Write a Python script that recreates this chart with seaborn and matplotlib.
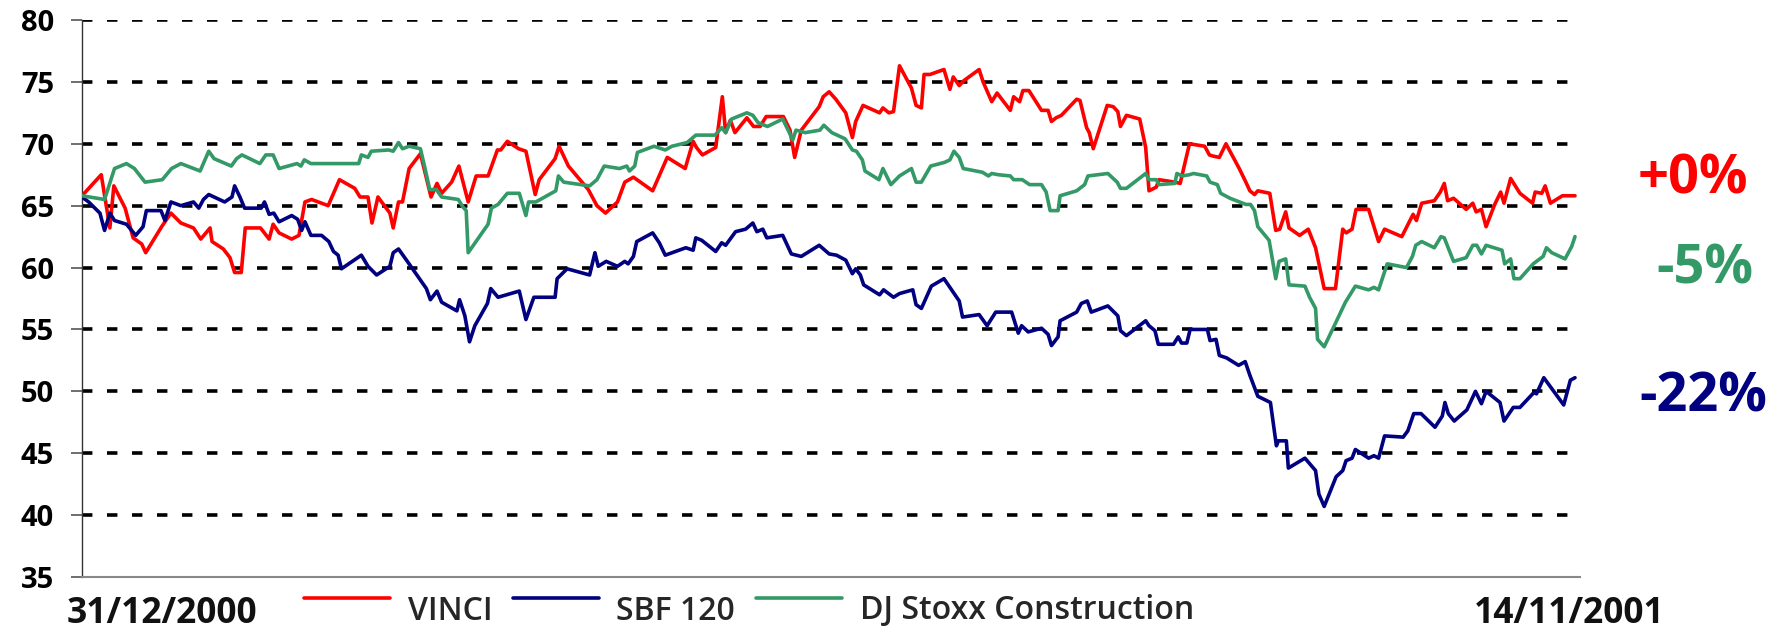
import numpy as np
import pandas as pd
import matplotlib
matplotlib.use("Agg")
import matplotlib.pyplot as plt
from matplotlib.lines import Line2D
from matplotlib.legend_handler import HandlerLine2D
import seaborn as sns

# ---------------- data (trading-day index, value) ----------------
series_names = ["VINCI", "SBF 120", "DJ Stoxx Construction"]
series_colors = ["#FF0000", "#000080", "#339966"]
end_labels = ["+0%", "-5%", "-22%"]
start_label = "31/12/2000"
end_label = "14/11/2001"
y_ticks = [35, 40, 45, 50, 55, 60, 65, 70, 75, 80]

vinci_x = [0, 2.9, 4.2, 4.8, 6.5, 7.7, 9.0, 9.6, 12.0, 13.4, 14.9, 16.8, 17.9, 19.3, 19.6, 21.3, 22.3, 23.0, 24.0, 24.6,
           26.9, 28.2, 28.8, 29.7, 31.6, 32.7, 33.6, 34.6, 37.1, 38.8, 41.1, 41.9, 43.1, 43.7, 44.6, 46.4, 46.9, 47.7,
           48.3, 49.3, 51.0, 52.6, 53.5, 54.2, 55.7, 56.8, 58.2, 59.4, 61.2, 62.6, 63.1, 64.1, 65.8, 66.9, 68.3, 68.9,
           71.3, 71.9, 73.3, 76.3, 77.6, 78.9, 80.7, 81.8, 83.1, 86.0, 88.2, 90.9, 92.1, 92.6, 93.5, 95.5, 96.5, 97.0,
           97.7, 98.4, 100.2, 101.2, 102.2, 103.1, 105.7, 106.7, 107.4, 108.4, 111.1, 111.7, 112.6, 113.6, 115.1,
           116.1, 116.6, 117.7, 120.2, 120.7, 121.6, 122.3, 123.2, 125.0, 125.7, 126.5, 126.9, 127.8, 129.9, 130.8,
           131.3, 132.2, 132.9, 135.2, 135.8, 137.1, 137.9, 139.9, 140.4, 141.3, 141.8, 142.7, 144.6, 145.6, 146.1,
           146.8, 147.6, 149.9, 150.4, 151.4, 151.8, 152.4, 154.5, 155.4, 156.1, 156.5, 157.4, 159.4, 160.3, 160.8,
           161.9, 162.3, 164.7, 165.5, 165.8, 166.9, 169.2, 169.9, 170.5, 171.4, 172.4, 173.5, 174.4, 175.4, 176.0,
           176.7, 177.2, 179.0, 179.9, 180.5, 181.4, 181.9, 183.5, 184.8, 185.9, 187.2, 188.9, 190.0, 190.5, 191.4,
           192.0, 193.9, 194.6, 195.4, 196.3, 198.9, 200.6, 201.1, 201.9, 203.8, 204.7, 205.3, 205.8, 206.7, 208.6,
           209.6, 210.1, 210.9, 211.6, 212.9, 213.8, 214.3, 215.3, 216.7, 218.6, 219.0, 220.0, 220.5, 221.3, 223.1,
           225.0]
vinci_y = [65.8, 67.5, 63.2, 66.6, 64.8, 62.4, 61.9, 61.2, 63.3, 64.4, 63.6, 63.2, 62.3, 63.2, 62.1, 61.5, 60.8, 59.6,
           59.6, 63.2, 63.2, 62.3, 63.5, 62.8, 62.3, 62.6, 65.3, 65.5, 65.0, 67.1, 66.4, 65.7, 65.7, 63.6, 65.7, 64.4,
           63.2, 65.3, 65.3, 68.0, 69.2, 65.7, 66.8, 66.0, 66.9, 68.2, 65.3, 67.4, 67.4, 69.5, 69.5, 70.2, 69.6, 69.4,
           65.9, 67.1, 68.8, 69.8, 68.2, 66.3, 65.0, 64.4, 65.3, 66.9, 67.3, 66.2, 68.9, 68.0, 70.2, 69.7, 69.1, 69.7,
           73.8, 70.9, 71.9, 70.9, 72.1, 71.4, 71.4, 72.2, 72.2, 71.1, 68.9, 71.1, 73.0, 73.8, 74.2, 73.6, 72.5, 70.5,
           71.8, 73.1, 72.5, 72.9, 72.5, 72.6, 76.3, 74.5, 73.1, 72.9, 75.6, 75.6, 76.0, 74.4, 75.4, 74.7, 75.1, 76.0,
           75.0, 73.4, 74.1, 72.7, 73.8, 73.4, 74.3, 74.3, 72.7, 72.7, 71.8, 72.1, 72.3, 73.6, 73.5, 71.3, 70.9, 69.6,
           73.1, 73.0, 72.6, 71.4, 72.3, 72.0, 69.7, 66.2, 66.5, 67.1, 66.9, 66.8, 67.5, 70.0, 69.8, 69.1, 69.0, 68.9,
           70.0, 68.9, 68.0, 66.9, 66.2, 65.9, 66.2, 66.0, 63.0, 63.1, 64.5, 63.2, 62.6, 63.1, 61.6, 58.3, 58.3, 63.1,
           62.8, 63.1, 64.7, 64.7, 63.5, 62.1, 63.1, 62.5, 64.3, 63.8, 65.2, 65.4, 66.1, 66.8, 65.4, 65.6, 64.7, 65.2,
           64.5, 64.7, 63.3, 65.1, 66.1, 65.2, 67.2, 66.0, 65.2, 66.1, 66.0, 66.6, 65.2, 65.8, 65.8]

sbf_x = [0, 1.0, 2.7, 3.4, 4.2, 4.9, 6.7, 8.1, 9.2, 9.7, 11.9, 12.5, 13.4, 14.9, 16.8, 17.6, 18.3, 19.1, 21.5, 22.6,
         23.0, 23.8, 24.5, 27.0, 27.5, 28.2, 28.9, 29.7, 31.6, 32.5, 33.1, 33.6, 34.5, 36.1, 37.2, 37.9, 38.6, 39.1,
         42.1, 43.1, 44.4, 46.4, 46.9, 47.7, 48.9, 51.9, 52.5, 53.5, 54.2, 56.5, 56.9, 57.7, 58.4, 59.2, 61.1, 61.6,
         62.7, 65.9, 66.9, 68.1, 71.3, 71.6, 73.1, 76.5, 77.3, 77.8, 79.0, 80.7, 81.8, 82.3, 83.1, 83.6, 86.0, 87.0,
         87.9, 91.0, 92.1, 92.5, 93.4, 95.5, 96.4, 97.0, 98.5, 100.0, 101.1, 101.7, 102.6, 103.2, 105.6, 106.9, 108.4,
         111.1, 112.6, 113.7, 115.1, 116.1, 116.6, 117.3, 117.8, 120.2, 120.8, 122.3, 123.2, 125.2, 125.7, 126.5,
         128.0, 129.9, 132.2, 132.7, 135.2, 136.4, 137.7, 140.1, 141.1, 141.6, 142.6, 144.6, 145.6, 146.1, 147.1,
         147.4, 149.9, 150.6, 151.5, 152.1, 154.6, 156.1, 156.5, 157.4, 160.3, 160.8, 161.7, 162.2, 164.5, 165.2,
         165.7, 166.5, 167.0, 169.6, 170.0, 170.9, 171.4, 172.5, 174.3, 175.3, 176.0, 177.2, 179.1, 180.0, 180.3,
         181.5, 181.8, 184.3, 185.9, 186.4, 187.2, 189.0, 190.0, 190.5, 191.4, 191.9, 193.9, 194.7, 195.4, 196.3,
         199.1, 199.8, 200.7, 201.8, 203.9, 205.0, 205.4, 205.9, 206.8, 208.7, 210.0, 210.9, 211.6, 213.7, 214.3,
         215.7, 216.7, 218.8, 219.2, 220.3, 223.3, 224.3, 225.0]
sbf_y = [65.7, 65.3, 64.4, 63.0, 64.4, 63.8, 63.5, 62.6, 63.3, 64.6, 64.6, 63.8, 65.3, 65.0, 65.3, 64.8, 65.5, 65.9,
         65.3, 65.7, 66.6, 65.7, 64.8, 64.8, 65.3, 64.3, 64.4, 63.7, 64.2, 63.9, 63.0, 63.7, 62.6, 62.6, 62.1, 61.3,
         61.0, 59.9, 61.0, 60.1, 59.4, 60.1, 61.2, 61.5, 60.6, 58.3, 57.4, 58.1, 57.2, 56.5, 57.4, 56.1, 54.0, 55.3,
         57.1, 58.3, 57.6, 58.1, 55.8, 57.6, 57.6, 59.1, 59.9, 59.4, 61.2, 60.1, 60.5, 60.1, 60.5, 60.3, 60.9, 62.1,
         62.8, 62.0, 61.0, 61.6, 61.4, 62.4, 62.2, 61.3, 62.0, 61.8, 62.9, 63.1, 63.6, 62.9, 63.1, 62.4, 62.6, 61.1,
         60.9, 61.8, 61.1, 61.0, 60.6, 59.5, 59.9, 59.4, 58.6, 57.8, 58.2, 57.6, 57.9, 58.2, 57.0, 56.7, 58.5, 59.1,
         57.3, 56.0, 56.2, 55.3, 56.4, 56.4, 54.7, 55.3, 54.8, 55.1, 54.6, 53.7, 54.4, 55.7, 56.4, 57.1, 57.3, 56.4,
         56.9, 56.1, 54.9, 54.5, 55.7, 55.3, 54.9, 53.8, 53.8, 54.4, 53.9, 53.9, 55.0, 55.0, 54.1, 54.2, 52.9, 52.7,
         52.1, 52.4, 51.3, 49.6, 49.1, 45.6, 46.0, 46.0, 43.8, 44.6, 43.6, 41.7, 40.7, 43.1, 43.6, 44.4, 44.6, 45.3,
         44.6, 44.8, 44.6, 46.4, 46.3, 46.8, 48.2, 48.2, 47.1, 48.0, 49.1, 48.2, 47.6, 48.5, 50.0, 49.0, 50.0, 49.1,
         47.6, 48.7, 48.7, 49.9, 49.8, 51.1, 48.9, 50.9, 51.1]

dj_x = [0, 3.4, 4.9, 6.7, 7.9, 9.5, 12.1, 13.5, 14.9, 17.8, 19.1, 19.9, 22.5, 23.3, 24.1, 26.8, 27.7, 28.8, 29.7,
        32.4, 33.0, 33.5, 34.5, 41.7, 42.1, 43.1, 43.6, 46.2, 46.9, 47.7, 48.3, 49.3, 51.0, 51.7, 52.4, 53.4, 54.2,
        56.7, 57.4, 57.9, 58.2, 61.2, 61.7, 62.7, 64.1, 65.9, 66.9, 67.3, 68.4, 71.4, 71.8, 72.6, 76.5, 77.6, 78.7,
        81.0, 82.1, 82.5, 83.3, 83.7, 86.2, 87.9, 88.9, 91.2, 92.5, 95.4, 96.4, 97.0, 97.9, 100.2, 101.1, 101.9,
        103.3, 105.6, 106.6, 107.1, 107.6, 109.0, 111.2, 111.8, 113.0, 115.0, 116.1, 116.7, 117.6, 118.0, 120.1,
        120.7, 121.9, 123.2, 125.0, 125.7, 126.5, 127.9, 130.0, 130.8, 131.4, 132.2, 132.8, 135.7, 136.6, 137.1,
        138.1, 139.9, 140.4, 141.7, 142.8, 144.6, 145.3, 145.9, 147.1, 147.4, 149.9, 151.1, 151.6, 154.6, 156.0,
        156.5, 157.4, 160.3, 160.8, 161.9, 162.3, 164.7, 165.0, 165.8, 166.9, 167.5, 169.5, 170.0, 171.1, 171.6,
        173.0, 175.4, 176.1, 176.7, 177.2, 178.9, 179.9, 180.4, 181.4, 181.9, 184.3, 185.0, 185.9, 186.2, 187.2,
        188.9, 190.4, 191.9, 193.9, 194.7, 195.4, 196.7, 199.6, 200.5, 201.0, 201.9, 203.8, 204.8, 205.3, 206.7,
        208.6, 209.6, 210.2, 210.9, 211.6, 214.0, 214.4, 215.3, 215.8, 216.7, 218.7, 220.2, 220.7, 221.5, 223.5,
        224.5, 225.0]
dj_y = [65.8, 65.5, 68.0, 68.4, 68.0, 66.9, 67.1, 68.0, 68.4, 67.8, 69.4, 68.8, 68.2, 68.8, 69.1, 68.4, 69.1, 69.1,
        68.0, 68.4, 68.2, 68.7, 68.4, 68.4, 69.1, 68.9, 69.4, 69.5, 69.4, 70.1, 69.6, 69.8, 69.6, 68.0, 66.3, 66.3,
        65.7, 65.5, 64.9, 64.6, 61.2, 63.5, 64.8, 65.1, 66.0, 66.0, 64.2, 65.3, 65.3, 66.2, 67.4, 66.9, 66.6, 67.1,
        68.2, 68.0, 68.2, 67.8, 68.2, 69.3, 69.8, 69.5, 69.8, 70.1, 70.7, 70.7, 71.3, 70.9, 72.0, 72.5, 72.3, 71.7,
        71.4, 72.0, 70.9, 70.3, 71.1, 70.9, 71.1, 71.5, 70.9, 70.4, 69.5, 69.4, 68.7, 67.8, 67.1, 68.0, 66.7, 67.4,
        68.0, 66.9, 66.9, 68.2, 68.5, 68.7, 69.4, 68.9, 68.0, 67.7, 67.4, 67.6, 67.5, 67.4, 67.1, 67.1, 66.7, 66.7,
        66.1, 64.6, 64.6, 65.8, 66.2, 66.7, 67.4, 67.6, 66.9, 66.4, 66.4, 67.6, 67.1, 67.1, 66.7, 66.8, 67.6, 67.4,
        67.5, 67.6, 67.4, 66.9, 66.7, 66.0, 65.6, 65.1, 65.1, 64.6, 63.3, 62.2, 59.1, 60.5, 60.7, 58.6, 58.5, 57.6,
        56.7, 54.2, 53.6, 55.5, 57.2, 58.5, 58.2, 58.4, 58.2, 60.3, 60.0, 60.9, 61.8, 62.1, 61.6, 62.5, 62.4, 60.5,
        60.8, 61.8, 61.8, 61.1, 61.8, 61.4, 60.3, 60.7, 59.1, 59.1, 60.3, 60.9, 61.6, 61.2, 60.7, 61.7, 62.5]

# ---------------- build long-form table ----------------
frames = []
for name, xs, ys in zip(series_names, [vinci_x, sbf_x, dj_x], [vinci_y, sbf_y, dj_y]):
    frames.append(pd.DataFrame({"day": xs, "value": ys, "series": name}))
df = pd.concat(frames, ignore_index=True)

# ---------------- style ----------------
sns.set_theme(style="white")
plt.rcParams["font.family"] = ["Open Sans", "DejaVu Sans"]
plt.rcParams["lines.scale_dashes"] = False

W, H = 1782, 634
fig = plt.figure(figsize=(W / 100, H / 100), dpi=100)
ax_left, ax_right = 82 / W, 1580 / W
ax_bottom, ax_top = 1 - 577 / H, 1 - 20 / H
ax = fig.add_axes([ax_left, ax_bottom, ax_right - ax_left, ax_top - ax_bottom])

LW = 2.6
palette = dict(zip(series_names, series_colors))
sns.lineplot(data=df, x="day", y="value", hue="series", palette=palette, hue_order=series_names,
             estimator=None, sort=False, linewidth=LW, ax=ax, zorder=3)

# dashed horizontal gridlines (not at the base axis)
for yv in y_ticks[1:]:
    ax.axhline(yv, xmin=0, xmax=0.9935, color="black", linewidth=2.6,
               linestyle=(0, (7.5, 10.5)), zorder=1)

ax.set_xlim(0, 225 * (1580 - 82) / (1575 - 82))
ax.set_ylim(35, 80)
ax.set_yticks(y_ticks)
ax.set_yticklabels([str(t) for t in y_ticks], fontsize=21, fontweight="bold", color="black")
ax.set_xticks([])
ax.set_xlabel("")
ax.set_ylabel("")
ax.tick_params(axis="y", direction="out", length=8, width=1.2, color="#555555", pad=12, left=True)

for s in ["top", "right"]:
    ax.spines[s].set_visible(False)
ax.spines["left"].set_color("#333333")
ax.spines["left"].set_linewidth(1.0)
ax.spines["bottom"].set_color("#888888")
ax.spines["bottom"].set_linewidth(1.5)


class RaisedLine(HandlerLine2D):
    def create_artists(self, legend, orig_handle, xdescent, ydescent, width, height, fontsize, trans):
        arts = super().create_artists(legend, orig_handle, xdescent, ydescent, width, height, fontsize, trans)
        for a in arts:
            yd = np.asarray(a.get_ydata(), dtype=float)
            a.set_ydata(yd + 0.33 * fontsize)
            a.set_linewidth(LW)
        return arts


legend_size = 23
# legend at bottom
sns.move_legend(ax, "center left", bbox_to_anchor=(288 / W, 1 - 611 / H), bbox_transform=fig.transFigure,
                ncol=3, frameon=False, title=None, borderpad=0, handlelength=86 / (legend_size * 1.389),
                handletextpad=0.55, columnspacing=0.65,
                prop={"family": ["Open Sans", "DejaVu Sans"], "size": legend_size, "weight": "semibold"},
                handler_map={Line2D: RaisedLine()})

# date labels
fig.text(67 / W, 1 - 623 / H, start_label, ha="left", va="baseline", fontsize=25.5, fontweight="bold",
         color="#111111")
fig.text(1569 / W, 1 - 623 / H, end_label, ha="center", va="baseline", fontsize=25.5, fontweight="bold",
         color="#111111")

# end performance labels
label_pos = [(1693, 180), (1705, 269), (1703, 398)]
for txt, col, (px, py) in zip(end_labels, [series_colors[0], series_colors[2], series_colors[1]], label_pos):
    fig.text(px / W, 1 - py / H, txt, ha="center", va="center", fontsize=39, fontweight="bold", color=col)

fig.savefig("out.png", dpi=100)
